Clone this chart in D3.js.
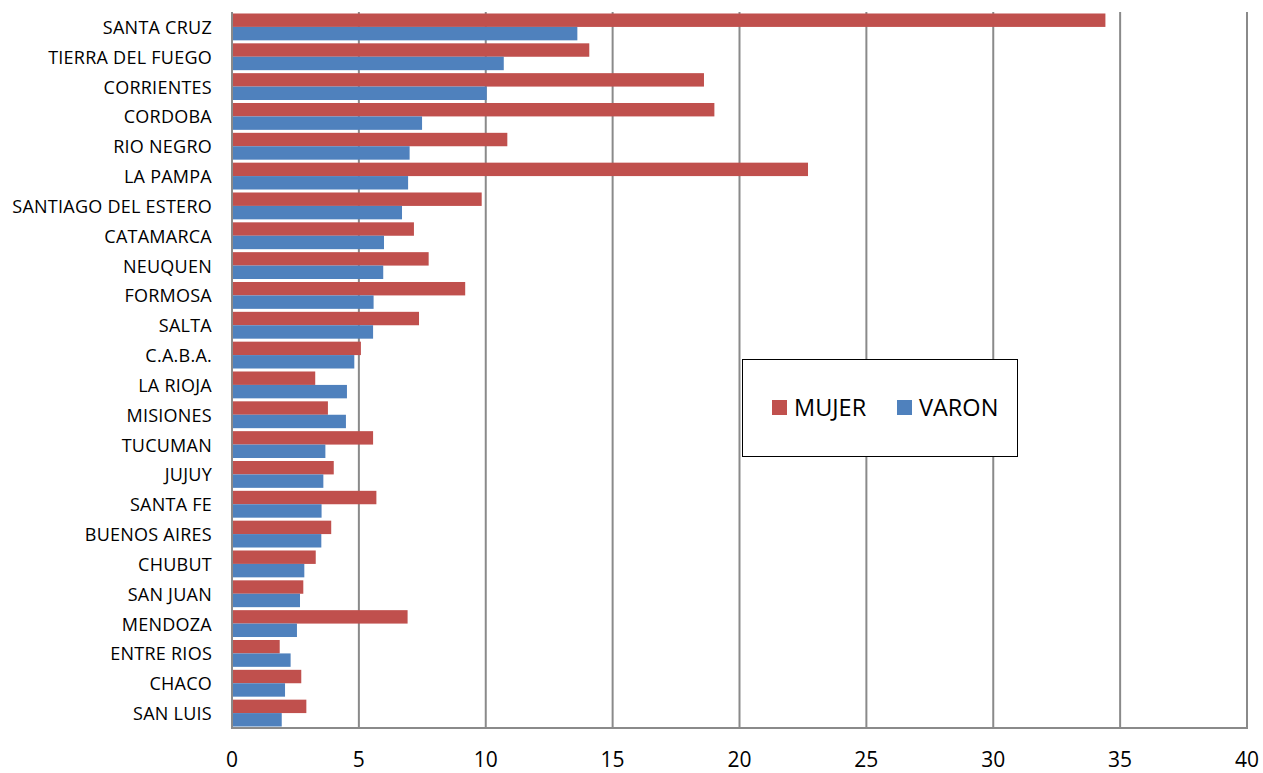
<!DOCTYPE html>
<html><head><meta charset="utf-8">
<script src="https://cdn.jsdelivr.net/npm/d3@7"></script>
<style>body{margin:0;background:#fff;} svg{display:block;font-family:"Open Sans",sans-serif;}</style>
</head><body>
<svg id="c" width="1263" height="773"></svg>
<script>
const categories = ["SANTA CRUZ","TIERRA DEL FUEGO","CORRIENTES","CORDOBA","RIO NEGRO","LA PAMPA","SANTIAGO DEL ESTERO","CATAMARCA","NEUQUEN","FORMOSA","SALTA","C.A.B.A.","LA RIOJA","MISIONES","TUCUMAN","JUJUY","SANTA FE","BUENOS AIRES","CHUBUT","SAN JUAN","MENDOZA","ENTRE RIOS","CHACO","SAN LUIS"];
const mujer = [34.42,14.08,18.60,19.01,10.85,22.70,9.84,7.17,7.75,9.19,7.37,5.08,3.28,3.78,5.56,4.01,5.69,3.91,3.30,2.81,6.92,1.88,2.73,2.93];
const varon = [13.61,10.71,10.04,7.49,7.00,6.94,6.70,5.99,5.96,5.58,5.56,4.82,4.53,4.49,3.68,3.60,3.53,3.52,2.85,2.68,2.56,2.31,2.09,1.96];
const xTicks = [0,5,10,15,20,25,30,35,40];
const seriesNames = ["MUJER","VARON"];
const seriesColors = ["#C0504D","#4F81BD"];

const svg = d3.select("#c");
const L = 232, R = 1247, T = 12, B = 728;
const x = d3.scaleLinear().domain([0,40]).range([L,R]);
const y = d3.scaleBand().domain(categories).range([T,B]).paddingInner(0.1).paddingOuter(0.05);
const inner = d3.scaleBand().domain(seriesNames).range([0,y.bandwidth()]);

// gridlines
svg.append("g").selectAll("line").data(xTicks.slice(1)).join("line")
  .attr("x1",d=>x(d)).attr("x2",d=>x(d)).attr("y1",T).attr("y2",B)
  .attr("stroke","#8a8a8a").attr("stroke-width",2);

const data = [mujer,varon];
data.forEach((vals,si)=>{
  svg.append("g").selectAll("rect").data(vals).join("rect")
    .attr("x",x(0)).attr("y",(d,i)=>y(categories[i])+inner(seriesNames[si]))
    .attr("width",d=>x(d)-x(0)).attr("height",inner.bandwidth())
    .attr("fill",seriesColors[si]);
});

// axes lines
svg.append("line").attr("x1",L).attr("x2",L).attr("y1",T).attr("y2",B+1).attr("stroke","#8a8a8a").attr("stroke-width",2);
svg.append("line").attr("x1",L-1).attr("x2",R+1).attr("y1",B).attr("y2",B).attr("stroke","#8a8a8a").attr("stroke-width",2);

// x tick labels
svg.append("g").selectAll("text").data(xTicks).join("text")
  .attr("x",d=>x(d)).attr("y",767).attr("text-anchor","middle")
  .attr("font-size",21).attr("fill","#000").text(d=>d);

// y labels
svg.append("g").selectAll("text").data(categories).join("text")
  .attr("x",212).attr("y",d=>y(d)+y.bandwidth()/2+0.5).attr("dy","0.36em")
  .attr("text-anchor","end").attr("font-size",18).attr("letter-spacing",0.25).attr("fill","#000").text(d=>d);

// legend
const lg = svg.append("g");
lg.append("rect").attr("x",742.5).attr("y",359.5).attr("width",275).attr("height",97)
  .attr("fill","#fff").attr("stroke","#000").attr("stroke-width",1);
const lx = [772,897];
seriesNames.forEach((n,i)=>{
  lg.append("rect").attr("x",lx[i]).attr("y",400).attr("width",15).attr("height",15).attr("fill",seriesColors[i]);
  lg.append("text").attr("x",lx[i]+22).attr("y",415.5).attr("font-size",23.5).attr("fill","#000").text(n);
});
</script>
</body></html>
